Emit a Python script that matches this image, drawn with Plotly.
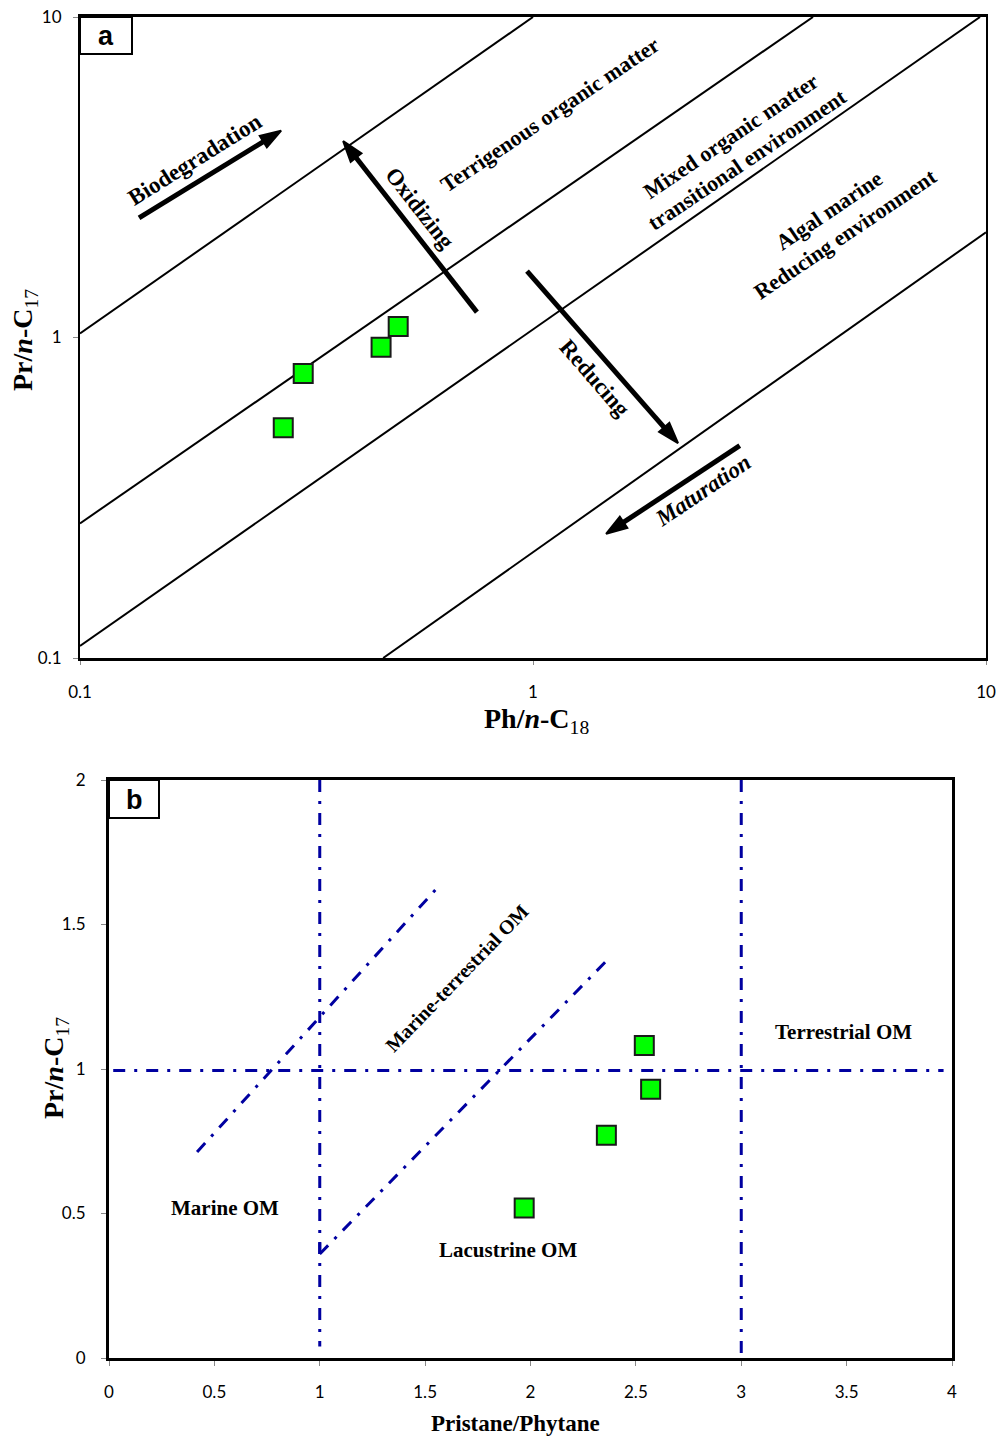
import numpy as np
import plotly.graph_objects as go

# ---------------- data ----------------
# Panel a: Pr/n-C17 vs Ph/n-C18 (log-log)
ph_nc18 = [0.311, 0.281, 0.462, 0.504]
pr_nc17 = [0.772, 0.523, 0.933, 1.082]

# Panel b: Pr/n-C17 vs Pristane/Phytane
pr_ph = [1.97, 2.36, 2.54, 2.57]
pr_nc17_b = [0.519, 0.771, 1.081, 0.930]

# Panel a boundary lines (x pairs, y pairs)
bound_a_x = [[0.1, 1.0], [0.1, 4.15], [0.1, 9.7], [0.467, 10.0]]
bound_a_y = [[1.03, 10.0], [0.263, 10.0], [0.109, 10.0], [0.1, 2.13]]

# Panel a process arrows: (tail, head) in data units
arrows_x = [[0.135, 0.278], [0.752, 0.381], [0.970, 2.09], [2.86, 1.45]]
arrows_y = [[2.36, 4.42], [1.20, 4.10], [1.61, 0.468], [0.460, 0.244]]

# Panel b boundary lines
bound_b_x = [[0.02, 3.96], [1.0, 1.0], [3.0, 3.0], [0.418, 1.574], [1.0, 2.355], [1.0, 1.0]]
bound_b_y = [[0.995, 0.995], [2.0, 0.04], [2.0, 0.0], [0.713, 1.640], [0.360, 1.370], [0.36, 0.40]]

a_ticks = [0.1, 1, 10]
a_ticklabels = ["0.1", "1", "10"]
b_xticks = [0, 0.5, 1, 1.5, 2, 2.5, 3, 3.5, 4]
b_yticks = [0, 0.5, 1, 1.5, 2]

W, H = 1008, 1437
SERIF = "Liberation Serif"
SANS = "Lato"
BLUE = "#0000A0"

fig = go.Figure()

# Panel a lines
for xs, ys in zip(bound_a_x, bound_a_y):
    fig.add_trace(go.Scatter(x=xs, y=ys, mode="lines", line=dict(color="black", width=2),
                             xaxis="x", yaxis="y", showlegend=False, hoverinfo="skip"))
# Panel a arrows
for xs, ys in zip(arrows_x, arrows_y):
    fig.add_trace(go.Scatter(x=xs, y=ys, mode="lines+markers",
                             line=dict(color="black", width=5),
                             marker=dict(symbol="arrow", size=[0, 22], angleref="previous",
                                         color="black", opacity=1,
                                         line=dict(color="black", width=2)),
                             xaxis="x", yaxis="y", showlegend=False, hoverinfo="skip"))
fig.add_trace(go.Scatter(x=ph_nc18, y=pr_nc17, mode="markers",
                         marker=dict(symbol="square", size=19, color="#00FF00",
                                     line=dict(color="#1a1a1a", width=2)),
                         xaxis="x", yaxis="y", showlegend=False))

# Panel b lines
for i, (xs, ys) in enumerate(zip(bound_b_x, bound_b_y)):
    dash = "12px,9px,3px,9px" if i != 5 else "solid"
    fig.add_trace(go.Scatter(x=xs, y=ys, mode="lines", line=dict(color=BLUE, width=3, dash=dash),
                             xaxis="x2", yaxis="y2", showlegend=False, hoverinfo="skip"))
fig.add_trace(go.Scatter(x=pr_ph, y=pr_nc17_b, mode="markers",
                         marker=dict(symbol="square", size=19, color="#00FF00",
                                     line=dict(color="#1a1a1a", width=2)),
                         xaxis="x2", yaxis="y2", showlegend=False))

def fx(px):
    return px / W

def fy(py):
    return 1 - py / H

tickfont = dict(family=SANS, size=17, color="black")

fig.update_layout(
    width=W, height=H,
    margin=dict(l=0, r=0, t=0, b=0),
    paper_bgcolor="white", plot_bgcolor="white",
    xaxis=dict(type="log", range=[-1, 1], domain=[fx(80), fx(986)], anchor="y",
               tickvals=a_ticks, ticktext=a_ticklabels, ticks="outside", ticklen=4,
               tickcolor="#888", showgrid=False, zeroline=False, automargin=False,
               showline=True, linecolor="black", linewidth=3, mirror=True,
               tickfont=tickfont, ticklabelstandoff=13),
    yaxis=dict(type="log", range=[-1, 1], domain=[fy(658), fy(17)], anchor="x",
               tickvals=a_ticks, ticktext=a_ticklabels, ticks="outside", ticklen=5,
               tickcolor="#888", showgrid=False, zeroline=False, automargin=False,
               showline=True, linecolor="black", linewidth=2, mirror=True,
               tickfont=tickfont, ticklabelstandoff=8),
    xaxis2=dict(range=[0, 4], domain=[fx(109), fx(952)], anchor="y2",
                tickvals=b_xticks, ticktext=[f"{v:g}" for v in b_xticks],
                ticks="outside", ticklen=5, tickcolor="#888", showgrid=False, zeroline=False,
                showline=True, linecolor="black", linewidth=3, mirror=True, automargin=False,
                tickfont=tickfont, ticklabelstandoff=12),
    yaxis2=dict(range=[0, 2], domain=[fy(1358), fy(780)], anchor="x2",
                tickvals=b_yticks, ticktext=[f"{v:g}" for v in b_yticks],
                ticks="outside", ticklen=5, tickcolor="#888", showgrid=False, zeroline=False,
                showline=True, linecolor="black", linewidth=3, mirror=True, automargin=False,
                tickfont=tickfont, ticklabelstandoff=12),
)

ann = []
def txt(x, y, text, size=21, angle=0, xref="x", yref="y", italic=False, bold=True, family=SERIF):
    t = text
    if italic:
        t = f"<i>{t}</i>"
    if bold:
        t = f"<b>{t}</b>"
    ann.append(dict(x=x, y=y, xref=xref, yref=yref, text=t, showarrow=False,
                    textangle=angle, font=dict(family=family, size=size, color="black"),
                    xanchor="center", yanchor="middle"))

# Panel a labels (log coords)
txt(-0.746, 0.554, "Biodegradation", 23, -32)
txt(-0.249, 0.404, "Oxidizing", 23, 52)
txt(0.0375, 0.695, "Terrigenous organic matter", 22, -34)
txt(0.455, 0.592, "Mixed organic matter<br>transitional environment", 22, -34)
txt(0.673, 0.360, "Algal marine<br>Reducing environment", 22, -34)
txt(0.137, -0.127, "Reducing", 23, 49)
txt(0.375, -0.477, "Maturation", 23, -34, italic=True)

# Panel b labels
txt(0.550, 0.519, "Marine OM", 21, 0, "x2", "y2")
txt(1.893, 0.374, "Lacustrine OM", 21, 0, "x2", "y2")
txt(3.483, 1.128, "Terrestrial OM", 21, 0, "x2", "y2")
txt(1.651, 1.315, "Marine-terrestrial OM", 20, -46, "x2", "y2")

# Axis titles
ann.append(dict(x=fx(25), y=fy(340), xref="paper", yref="paper", showarrow=False, textangle=-90,
                text="<b>Pr/<i>n</i>-C</b><sub>17</sub>", font=dict(family=SERIF, size=28, color="black"),
                xanchor="center", yanchor="middle"))
ann.append(dict(x=fx(536), y=fy(720), xref="paper", yref="paper", showarrow=False,
                text="<b>Ph/<i>n</i>-C</b><sub>18</sub>", font=dict(family=SERIF, size=28, color="black"),
                xanchor="center", yanchor="middle"))
ann.append(dict(x=fx(55), y=fy(1068), xref="paper", yref="paper", showarrow=False, textangle=-90,
                text="<b>Pr/<i>n</i>-C</b><sub>17</sub>", font=dict(family=SERIF, size=28, color="black"),
                xanchor="center", yanchor="middle"))
ann.append(dict(x=fx(515), y=fy(1423), xref="paper", yref="paper", showarrow=False,
                text="<b>Pristane/Phytane</b>", font=dict(family=SERIF, size=23, color="black"),
                xanchor="center", yanchor="middle"))

# Panel letters
ann.append(dict(x=fx(106), y=fy(36), xref="paper", yref="paper", showarrow=False,
                text="<b>a</b>", font=dict(family="Liberation Sans", size=27, color="black"),
                xanchor="center", yanchor="middle"))
ann.append(dict(x=fx(134), y=fy(800), xref="paper", yref="paper", showarrow=False,
                text="<b>b</b>", font=dict(family="Liberation Sans", size=27, color="black"),
                xanchor="center", yanchor="middle"))

shapes = [
    dict(type="rect", xref="paper", yref="paper", x0=fx(80), x1=fx(132), y0=fy(54), y1=fy(17),
         line=dict(color="black", width=2), fillcolor="white", layer="above"),
    dict(type="rect", xref="paper", yref="paper", x0=fx(109), x1=fx(159), y0=fy(818), y1=fy(780),
         line=dict(color="black", width=2), fillcolor="white", layer="above"),
]

fig.update_layout(annotations=ann, shapes=shapes)
fig.write_html("out.html")
